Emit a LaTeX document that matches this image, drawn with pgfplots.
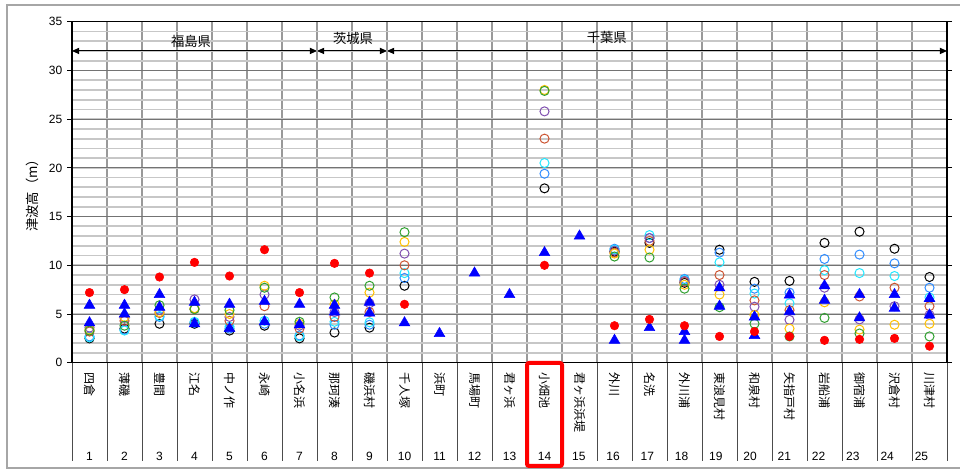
\documentclass[border=0pt]{standalone}
\usepackage{fontspec}
\setmainfont{Liberation Sans}
\newfontfamily\jp{Noto Sans CJK JP}
\usepackage{pgfplots}
\pgfplotsset{compat=1.18}
\usetikzlibrary{arrows.meta}
\definecolor{cblack}{HTML}{000000}
\definecolor{cblue}{HTML}{2E8BFF}
\definecolor{ccyan}{HTML}{22E6FF}
\definecolor{cbrown}{HTML}{CC5533}
\definecolor{cpurple}{HTML}{8050B0}
\definecolor{cyellow}{HTML}{FFC000}
\definecolor{cgreen}{HTML}{2FA02F}
\definecolor{cred}{HTML}{FF0000}
\definecolor{ctri}{HTML}{0000FF}
\begin{document}
\begin{tikzpicture}
\useasboundingbox (0,0) rectangle (720.75pt,356.25pt);
\draw[black!35, line width=1.1pt] (719.8pt,352.5pt) -- (5.25pt,352.5pt) -- (5.25pt,5.25pt) -- (719.8pt,5.25pt);
\begin{axis}[
  scale only axis, width=656.25pt, height=255.75pt,
  at={(54pt,84.2pt)}, anchor=south west,
  xmin=0.5, xmax=25.5, ymin=0, ymax=35,
  xtick={1.5,2.5,...,24.5}, xticklabels={},
  x tick style={draw=none},
  xmajorgrids, major x grid style={black!40, line width=0.9pt},
  ytick={0,5,...,35}, minor ytick={1,...,34},
  ymajorgrids, yminorgrids,
  major y grid style={black!55, line width=0.6pt},
  minor y grid style={black!22, line width=1.3pt},
  tick align=outside, major tick length=3.75pt,
  y tick style={black, line width=0.6pt},
  minor y tick style={draw=none},
  axis line style={black, line width=1.1pt},
  yticklabel style={font=\fontsize{9}{9}\selectfont},
  /pgf/number format/assume math mode=true,
  clip=false,
  every axis plot/.append style={only marks},
]
\addplot[mark=o, mark size=3.4pt, mark options={draw=cblack, line width=0.75pt}] coordinates {(1,2.5)(2,3.5)(3,4.0)(4,4.0)(5,3.3)(6,3.8)(7,2.5)(8,3.1)(9,3.6)(10,7.9)(14,17.9)(16,11.4)(17,12.3)(18,8.2)(19,11.6)(20,8.3)(21,8.4)(22,12.3)(23,13.45)(24,11.7)(25,8.8)};
\addplot[mark=o, mark size=3.4pt, mark options={draw=cblue, line width=0.75pt}] coordinates {(1,2.7)(2,3.4)(3,4.7)(4,4.1)(5,3.5)(6,4.0)(7,2.8)(8,3.9)(9,3.9)(10,8.7)(14,19.4)(16,11.7)(17,12.8)(18,8.6)(19,11.3)(20,7.6)(21,7.2)(22,10.65)(23,11.1)(24,10.2)(25,7.7)};
\addplot[mark=o, mark size=3.4pt, mark options={draw=ccyan, line width=0.75pt}] coordinates {(1,2.6)(2,3.3)(3,4.8)(4,4.2)(5,3.7)(6,4.3)(7,2.7)(8,4.2)(9,4.15)(10,9.2)(14,20.5)(16,11.6)(17,13.1)(18,8.5)(19,10.3)(20,7.1)(21,6.1)(22,9.5)(23,9.2)(24,8.9)(25,6.7)};
\addplot[mark=o, mark size=3.4pt, mark options={draw=cbrown, line width=0.75pt}] coordinates {(1,3.2)(2,4.3)(3,5.1)(4,5.5)(5,4.3)(6,5.8)(7,3.5)(8,4.7)(9,5.2)(10,10.0)(14,23.0)(16,11.3)(17,12.5)(18,8.3)(19,9.0)(20,6.4)(21,5.4)(22,9.0)(23,6.8)(24,7.7)(25,5.8)};
\addplot[mark=o, mark size=3.4pt, mark options={draw=cpurple, line width=0.75pt}] coordinates {(1,3.6)(2,4.6)(3,5.4)(4,6.5)(5,4.7)(6,7.0)(7,3.8)(8,5.2)(9,6.1)(10,11.2)(14,25.8)(16,11.5)(17,12.8)(18,8.4)(19,8.0)(20,5.75)(21,4.4)(22,7.7)(23,4.45)(24,5.8)(25,4.9)};
\addplot[mark=o, mark size=3.4pt, mark options={draw=cyellow, line width=0.75pt}] coordinates {(1,3.4)(2,4.7)(3,5.2)(4,5.6)(5,5.0)(6,7.9)(7,4.0)(8,6.0)(9,7.2)(10,12.4)(14,28.0)(16,11.2)(17,11.6)(18,8.0)(19,7.0)(20,4.9)(21,3.5)(22,6.2)(23,3.4)(24,3.9)(25,4.0)};
\addplot[mark=o, mark size=3.4pt, mark options={draw=cgreen, line width=0.75pt}] coordinates {(1,3.3)(2,3.8)(3,5.9)(4,5.5)(5,5.4)(6,7.7)(7,4.2)(8,6.7)(9,7.9)(10,13.4)(14,27.9)(16,10.9)(17,10.8)(18,7.6)(19,5.7)(20,4.0)(21,2.7)(22,4.6)(23,3.0)(25,2.7)};
\addplot[mark=triangle*, mark size=4.6pt, mark options={draw=ctri, fill=ctri}] coordinates {(1,5.9)(1,4.1)(2,5.9)(2,5.0)(3,7.0)(3,5.7)(4,6.2)(4,4.0)(5,6.0)(5,3.5)(6,6.3)(6,4.2)(7,6.0)(7,3.9)(8,5.9)(8,5.2)(9,6.2)(9,5.1)(10,4.1)(11,3.0)(12,9.2)(13,7.0)(14,11.3)(15,13.0)(16,2.3)(17,3.6)(18,3.2)(18,2.3)(19,7.7)(19,5.8)(20,4.7)(20,2.8)(21,6.95)(21,5.24)(22,7.9)(22,6.4)(23,7.0)(23,4.6)(24,7.0)(24,5.6)(25,6.6)(25,4.9)};
\addplot[mark=*, mark size=3.2pt, mark options={draw=cred, fill=cred}] coordinates {(1,7.2)(2,7.5)(3,8.8)(4,10.3)(5,8.9)(6,11.6)(7,7.2)(8,10.2)(9,9.2)(10,6.0)(14,10.0)(16,3.8)(17,4.45)(18,3.8)(19,2.7)(20,3.2)(21,2.7)(22,2.3)(23,2.4)(24,2.5)(25,1.7)};
\draw[line width=0.8pt, {Triangle[length=5.3pt,width=4.6pt]}-{Triangle[length=5.3pt,width=4.6pt]}] (axis cs:0.5,32) -- (axis cs:7.5,32);
\draw[line width=0.8pt, {Triangle[length=5.3pt,width=4.6pt]}-{Triangle[length=5.3pt,width=4.6pt]}] (axis cs:7.5,32) -- (axis cs:9.5,32);
\draw[line width=0.8pt, {Triangle[length=5.3pt,width=4.6pt]}-{Triangle[length=5.3pt,width=4.6pt]}] (axis cs:9.5,32) -- (axis cs:25.5,32);
\node[font=\jp\fontsize{10}{10}\selectfont, inner sep=0] at (axis cs:3.9,32.95) {福島県};
\node[font=\jp\fontsize{10}{10}\selectfont, inner sep=0] at (axis cs:8.53,33.3) {茨城県};
\node[font=\jp\fontsize{10}{10}\selectfont, inner sep=0] at (axis cs:15.78,33.35) {千葉県};
\end{axis}
\node[rotate=90, font=\jp\fontsize{10}{10}\selectfont, inner sep=0] at (24pt,212pt) {津波高（m）};
\foreach \k in {0,...,25} {
  \draw[black!70, line width=0.75pt] ({54pt+\k*26.25pt},84.2pt) -- ({54pt+\k*26.25pt},10.5pt);
}
\foreach \n [count=\i] in {四倉,薄磯,豊間,江名,中ノ作,永崎,小名浜,那珂湊,磯浜村,千人塚,浜町,馬場町,君ヶ浜,小畑池,君ヶ浜浜堤,外川,名洗,外川浦,東浪見村,和泉村,矢指戸村,岩船浦,御宿浦,沢倉村,川津村} {
  \node[rotate=-90, anchor=west, font=\jp\fontsize{9}{9}\selectfont, inner sep=0] at ({54pt+(\i-0.5)*26.25pt},77pt) {\n};
}
\foreach \i in {1,...,25} {
  \pgfmathsetmacro{\off}{\i>14 ? -(\i-14)*0.55 : 0}
  \node[font=\fontsize{9}{9}\selectfont, inner sep=0] at ({54pt+(\i-0.5)*26.25pt+\off pt},14.25pt) {\i};
}
\draw[cred, line width=3pt, rounded corners=1.5pt] (395.25pt,84pt) rectangle (421.5pt,6.75pt);
\end{tikzpicture}
\end{document}
